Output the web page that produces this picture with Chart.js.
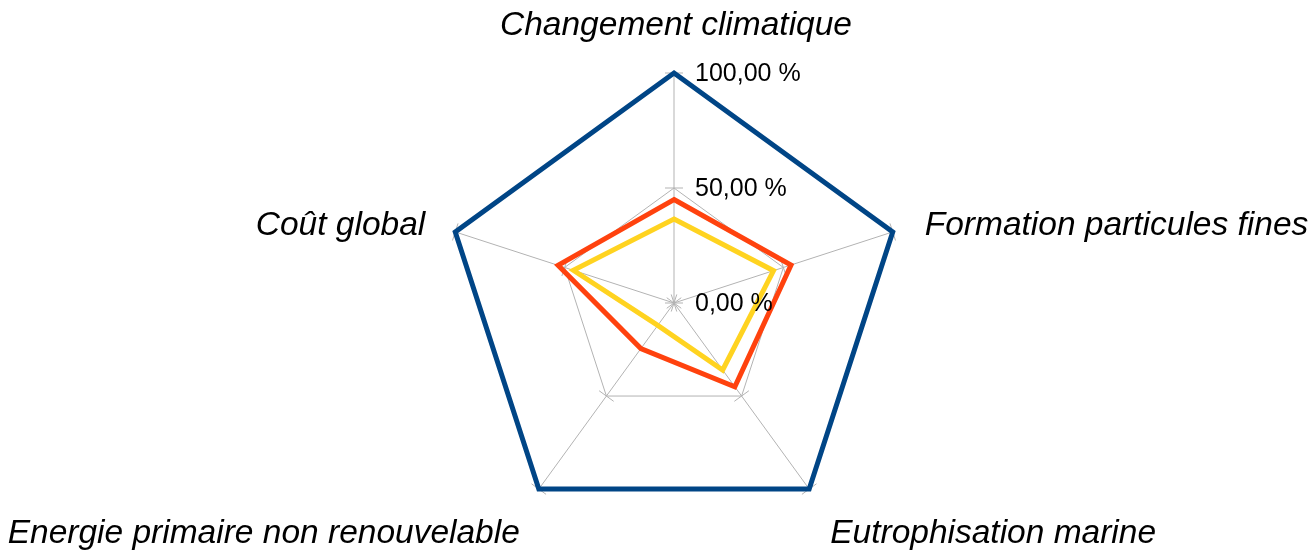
<!DOCTYPE html>
<html lang="fr">
<head>
<meta charset="utf-8">
<title>Radar</title>
<script src="https://cdn.jsdelivr.net/npm/chart.js@4.4.1/dist/chart.umd.min.js"></script>
<style>
  html, body { margin: 0; padding: 0; background: #fff; }
  canvas { display: block; }
</style>
</head>
<body>
<canvas id="radar" width="1314" height="553"></canvas>
<script>
// axes of the radar, clockwise from the top
const categories = ['Changement climatique', 'Formation particules fines', 'Eutrophisation marine', 'Energie primaire non renouvelable', 'Coût global'];
// values in %
const referenceValues = [100, 100, 100, 100, 100];
const scenarioA = [45, 53.5, 45, 24.5, 53];
const scenarioB = [36.5, 45.5, 36, 12, 46];
const tickValues = [0, 50, 100];

// where each category label sits relative to its axis end (dx, dy, align)
const labelPlacement = [
	{ dx: 2, dy: -47, align: 'center' },
	{ dx: 32, dy: -6, align: 'left' },
	{ dx: 21, dy: 45, align: 'left' },
	{ dx: -19, dy: 45, align: 'right' },
	{ dx: -30, dy: -6, align: 'right' },
];

const gridColor = '#b3b3b3';
const fmtPct = (v) => v.toFixed(2).replace('.', ',') + ' %';

// small perpendicular tick marks on every axis, plus tick and category labels
const radarDecor = {
	id: 'radarDecor',
	beforeDatasetsDraw(chart) {
		const scale = chart.scales.r;
		const ctx = chart.ctx;
		ctx.save();
		ctx.strokeStyle = gridColor;
		ctx.lineWidth = 1;
		for (let i = 0; i < categories.length; i++) {
			const a = scale.getIndexAngle(i) - Math.PI / 2;
			const px = -Math.sin(a), py = Math.cos(a);
			tickValues.forEach((v) => {
				const p = scale.getPointPosition(i, scale.getDistanceFromCenterForValue(v));
				ctx.beginPath();
				ctx.moveTo(p.x - px * 9, p.y - py * 9);
				ctx.lineTo(p.x + px * 9, p.y + py * 9);
				ctx.stroke();
			});
		}
		ctx.restore();
	},
	afterDraw(chart) {
		const scale = chart.scales.r;
		const ctx = chart.ctx;
		ctx.save();
		ctx.fillStyle = '#000';
		ctx.textBaseline = 'middle';

		ctx.font = '25px "Liberation Sans", Arial, sans-serif';
		ctx.textAlign = 'left';
		tickValues.forEach((v) => {
			const p = scale.getPointPosition(0, scale.getDistanceFromCenterForValue(v));
			ctx.fillText(fmtPct(v), p.x + 21, p.y + 1);
		});

		ctx.font = 'italic 33.5px "Liberation Sans", Arial, sans-serif';
		categories.forEach((name, i) => {
			const p = scale.getPointPosition(i, scale.drawingArea);
			const lp = labelPlacement[i];
			ctx.textAlign = lp.align;
			ctx.fillText(name, p.x + lp.dx, p.y + lp.dy);
		});
		ctx.restore();
	},
};

const lineStyle = {
	fill: false,
	borderWidth: 5,
	borderJoinStyle: 'miter',
	pointRadius: 0,
	pointHoverRadius: 0,
};

new Chart(document.getElementById('radar').getContext('2d'), {
	type: 'radar',
	data: {
		labels: categories,
		datasets: [
			{ label: 'Référence', data: referenceValues, borderColor: '#004586', ...lineStyle },
			{ label: 'Scénario A', data: scenarioA, borderColor: '#ff420e', ...lineStyle },
			{ label: 'Scénario B', data: scenarioB, borderColor: '#ffd320', ...lineStyle },
		],
	},
	options: {
		responsive: false,
		animation: false,
		layout: {
			padding: { left: 34, right: 0, top: 73, bottom: 20 },
		},
		plugins: {
			legend: { display: false },
			tooltip: { enabled: false },
		},
		scales: {
			r: {
				min: 0,
				max: 100,
				beginAtZero: true,
				ticks: { stepSize: 50, display: false },
				pointLabels: { display: false },
				grid: { color: gridColor, lineWidth: 1 },
				angleLines: { color: gridColor, lineWidth: 1 },
			},
		},
	},
	plugins: [radarDecor],
});
</script>
</body>
</html>
